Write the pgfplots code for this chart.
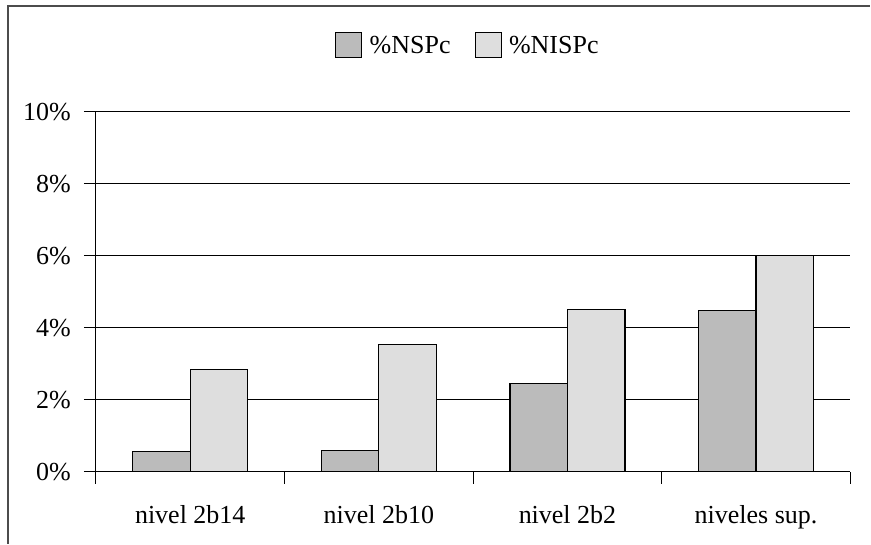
\documentclass[border=0pt]{standalone}
\usepackage{fontspec}
\setmainfont{Liberation Serif}
\usepackage{pgfplots}
\pgfplotsset{compat=1.18}
\definecolor{nsp}{HTML}{BBBBBB}
\definecolor{nisp}{HTML}{DEDEDE}
\begin{document}
\begin{tikzpicture}
\path (0bp,0bp) rectangle (871bp,544bp);
\draw[line width=1.3bp, color=black!70] (8bp,0bp) -- (8bp,538bp) -- (871bp,538bp);
\begin{axis}[
  at={(96bp,72bp)}, anchor=south west,
  scale only axis, width=755bp, height=360bp,
  xmin=-0.5, xmax=3.5, ymin=0, ymax=10,
  axis x line*=bottom, axis y line*=left,
  axis line style={line width=1bp, black},
  ybar=0pt, bar width=57.5bp,
  xtick={-0.5,0.5,1.5,2.5,3.5},
  xticklabels={},
  extra x ticks={0,1,2,3},
  extra x tick labels={nivel 2b14,nivel 2b10,nivel 2b2,niveles sup.},
  extra x tick style={grid=none, tick style={draw=none},
    xticklabel style={anchor=base, inner sep=0pt, yshift=-40bp}},
  major tick length=12bp,
  tick align=outside,
  tick style={line width=1bp, black},
  ytick={0,2,4,6,8,10},
  yticklabel={\pgfmathprintnumber{\tick}\%},
  /pgf/number format/assume math mode=true,
  ymajorgrids, grid style={line width=1bp, black},
  tick label style={font=\fontsize{26bp}{30bp}\selectfont},
  yticklabel style={anchor=east, inner sep=0pt, xshift=-13bp},
  legend style={draw=none, fill=none, at={(0.493,1.186)}, anchor=center,
    font=\fontsize{26bp}{30bp}\selectfont, legend columns=2,
    /tikz/every even column/.append style={column sep=22bp}},
  legend image code/.code={\draw[#1, line width=1.2bp] (0bp,-12bp) rectangle (26bp,13bp);
    \path[draw=none, fill=none] (0bp,0bp) -- (32bp,0bp);},
]
\addplot[fill=nsp, draw=black, line width=1.2bp] coordinates {(0,0.55) (1,0.59) (2,2.45) (3,4.48)};
\addplot[fill=nisp, draw=black, line width=1.2bp] coordinates {(0,2.83) (1,3.54) (2,4.50) (3,6.0)};
\legend{\%NSPc,\%NISPc}
\end{axis}
\end{tikzpicture}
\end{document}
